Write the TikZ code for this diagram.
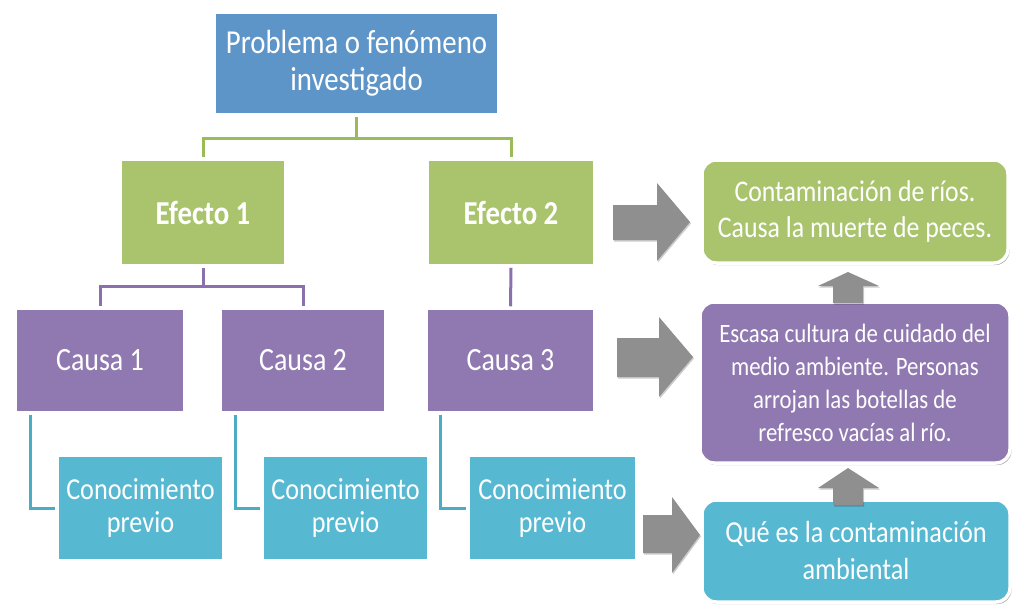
\documentclass[tikz,border=0pt]{standalone}
\usepackage{fontspec}
\setmainfont{Carlito}[FakeStretch=0.86]
\usetikzlibrary{shadows,calc}
\definecolor{cblue}{HTML}{5E95C9}
\definecolor{cgreen}{HTML}{A9C46D}
\definecolor{cpurple}{HTML}{9079B0}
\definecolor{ccyan}{HTML}{57B8D2}
\definecolor{lgreen}{HTML}{9BBB59}
\definecolor{lpurple}{HTML}{8A70AC}
\definecolor{lcyan}{HTML}{4BACC6}
\definecolor{agray}{HTML}{8F8F8F}
\begin{document}
\begin{tikzpicture}[x=1pt,y=-1pt,
  box/.style={draw=white,line width=3.5pt,text=white,align=center,inner sep=0pt,
    drop shadow={shadow xshift=1.5pt,shadow yshift=-2pt,opacity=0.35,fill=black}},
  rbox/.style={box,rounded corners=14pt},
  link/.style={line width=3pt},
  garrow/.style={fill=agray,draw=none,drop shadow={shadow xshift=1pt,shadow yshift=-1.5pt,opacity=0.2,fill=black}}]
\useasboundingbox (0,0) rectangle (1014,605);

% top
\node[box,fill=cblue,minimum width=285pt,minimum height=103pt,font=\fontsize{33.5}{37}\selectfont] (prob) at (356.5,63.5) {Problema o fenómeno\\investigado};
% effects
\node[box,fill=cgreen,minimum width=166pt,minimum height=107pt,font=\fontsize{33.5}{36}\selectfont\bfseries] (ef1) at (203,212.5) {Efecto 1};
\node[box,fill=cgreen,minimum width=168pt,minimum height=107pt,font=\fontsize{33.5}{36}\selectfont\bfseries] (ef2) at (511,212.5) {Efecto 2};
% causes
\node[box,fill=cpurple,minimum width=170pt,minimum height=105pt,font=\fontsize{32.5}{36}\selectfont] (c1) at (100,360.5) {Causa 1};
\node[box,fill=cpurple,minimum width=166pt,minimum height=105pt,font=\fontsize{32.5}{36}\selectfont] (c2) at (303,360.5) {Causa 2};
\node[box,fill=cpurple,minimum width=169pt,minimum height=105pt,font=\fontsize{32.5}{36}\selectfont] (c3) at (510.5,360.5) {Causa 3};
% knowledge
\node[box,fill=ccyan,minimum width=167pt,minimum height=106pt,font=\fontsize{30.5}{33}\selectfont] (k1) at (140.5,508) {Conocimiento\\previo};
\node[box,fill=ccyan,minimum width=167pt,minimum height=106pt,font=\fontsize{30.5}{33}\selectfont] (k2) at (345.5,508) {Conocimiento\\previo};
\node[box,fill=ccyan,minimum width=169pt,minimum height=106pt,font=\fontsize{30.5}{33}\selectfont] (k3) at (552.5,508) {Conocimiento\\previo};
% right column
\node[rbox,fill=cgreen,minimum width=306pt,minimum height=103pt,font=\fontsize{30}{36}\selectfont] (r1) at (855,211.5) {Contaminación de ríos.\\Causa la muerte de peces.};
\node[rbox,fill=cpurple,minimum width=310pt,minimum height=161pt,font=\fontsize{26.5}{33}\selectfont] (r2) at (855,382.5) {Escasa cultura de cuidado del\\medio ambiente. Personas\\arrojan las botellas de\\refresco vacías al río.};
\node[rbox,fill=ccyan,minimum width=308pt,minimum height=102pt,font=\fontsize{30.5}{37}\selectfont] (r3) at (856,551) {Qué es la contaminación\\ambiental};

% connectors
\coordinate (gbar) at (0,138);
\coordinate (pbar) at (0,286);
\draw[link,lgreen] (prob.south) -- (prob.south |- gbar) -| (ef1.north);
\draw[link,lgreen] (prob.south |- gbar) -| (ef2.north);
\draw[link,lpurple] (ef1.south) -- (ef1.south |- pbar) -| (c1.north);
\draw[link,lpurple] (ef1.south |- pbar) -| (c2.north);
\draw[link,lpurple] (ef2.south) -- (c3.north);
\draw[link,lcyan] ([xshift=17pt]c1.south west) |- (k1.west);
\draw[link,lcyan] ([xshift=17pt]c2.south west) |- (k2.west);
\draw[link,lcyan] ([xshift=16pt]c3.south west) |- (k3.west);

% block arrows
\path[garrow] (613,205) -- (657,205) -- (657,183) -- (690,222) -- (657,261) -- (657,240) -- (613,240) -- cycle;
\path[garrow] (617,338) -- (659,338) -- (659,317) -- (693,357) -- (659,397) -- (659,377) -- (617,377) -- cycle;
\path[garrow] (643,515) -- (672,515) -- (672,497) -- (700,535) -- (672,573) -- (672,553) -- (643,553) -- cycle;
\path[garrow] (833,303) -- (833,286) -- (818,286) -- (848,272) -- (879,286) -- (863,286) -- (863,303) -- cycle;
\path[garrow] (833,505) -- (833,488) -- (818,488) -- (848,468) -- (879,488) -- (863,488) -- (863,505) -- cycle;
\end{tikzpicture}
\end{document}
